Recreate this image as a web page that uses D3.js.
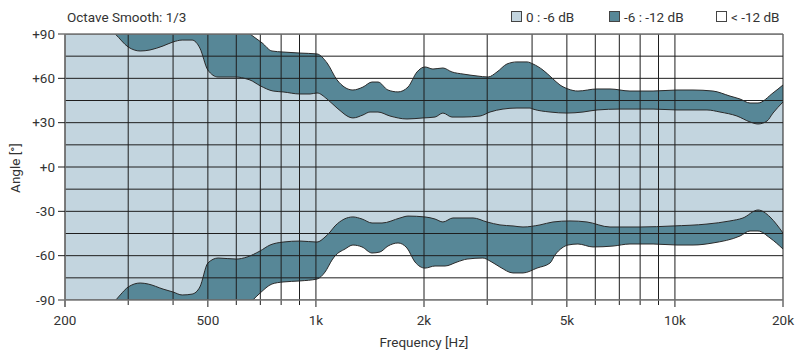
<!DOCTYPE html>
<html>
<head>
<meta charset="utf-8">
<script src="https://cdn.jsdelivr.net/npm/d3@7"></script>
<style>
    body { margin: 0; background: #fff; }
    text { font-family: Roboto, sans-serif; fill: #333; font-size: 13.5px; }
</style>
</head>
<body>
<svg class="chart"></svg>
<script>
// -6 dB boundary, upper side
const upper6Freq = [200, 276, 300, 324, 345, 375, 400, 424, 452, 475, 500, 534, 600, 643, 655, 699, 760, 810, 903, 963, 1007, 1074, 1145, 1268, 1352, 1414, 1489, 1608, 1793, 1987, 2146, 2258, 2393, 2569, 2864, 3054, 3319, 3631, 3948, 4024, 4488, 5004, 5545, 6067, 7031, 8690, 10134, 12282, 13350, 14888, 16184, 17038, 18050, 18756, 20000];
const upper6Deg = [110, 90, 81.2, 78.5, 79.2, 81.9, 84.6, 85.9, 85.9, 80.5, 65.6, 60.9, 60.9, 59.5, 58.9, 55.0, 51.4, 50.8, 49.4, 49.4, 50.1, 46.0, 39.9, 33.2, 35.2, 37.2, 37.2, 34.5, 32.5, 33.2, 33.8, 36.5, 33.8, 33.8, 34.5, 37.2, 39.2, 39.9, 39.9, 39.2, 37.2, 36.5, 37.2, 38.6, 39.2, 39.2, 38.6, 38.6, 37.2, 34.5, 30.5, 29.1, 31.1, 36.5, 44.0];

// -12 dB boundary, upper side
const upper12Freq = [200, 600, 655, 708, 754, 810, 903, 1007, 1074, 1145, 1268, 1352, 1433, 1489, 1587, 1693, 1805, 1912, 2013, 2118, 2258, 2393, 2569, 2810, 3017, 3194, 3405, 3631, 3873, 4024, 4290, 4546, 4784, 5036, 5370, 6067, 6594, 7497, 8690, 10134, 11230, 12765, 14235, 15178, 16184, 17038, 18756, 20000];
const upper12Deg = [115, 98, 90, 84.0, 78.5, 77.8, 77.1, 76.5, 70.4, 58.9, 52.1, 54.1, 57.5, 57.5, 52.1, 50.8, 54.1, 64.3, 67.7, 66.3, 67.0, 64.3, 62.9, 61.6, 60.9, 64.3, 69.7, 71.1, 71.1, 69.7, 65.6, 60.2, 55.5, 52.8, 51.4, 52.8, 52.8, 51.4, 51.4, 52.1, 52.1, 51.4, 48.0, 46.0, 43.3, 43.3, 50.1, 55.5];

// -6 dB boundary, lower side
const lower6Freq = [200, 276, 285, 300, 324, 341, 375, 400, 424, 452, 475, 500, 534, 600, 643, 699, 745, 810, 903, 1007, 1060, 1095, 1130, 1268, 1344, 1433, 1528, 1715, 1805, 2013, 2146, 2258, 2409, 2739, 2996, 3256, 3540, 3774, 4208, 4575, 5102, 5689, 6594, 7995, 9878, 12282, 14235, 15474, 17038, 18400, 19246, 20000];
const lower6Deg = [-110, -90.5, -86.6, -81.2, -78.5, -79.2, -82.6, -84.6, -86.6, -86.0, -81.2, -65.0, -61.6, -62.3, -60.9, -56.8, -52.8, -50.8, -50.1, -50.8, -47.4, -44.0, -39.9, -33.8, -35.2, -37.9, -37.9, -34.5, -33.2, -33.8, -35.2, -37.2, -34.5, -34.5, -37.2, -39.2, -39.9, -40.6, -39.2, -37.2, -36.5, -37.2, -40.6, -40.6, -39.9, -38.6, -36.5, -34.5, -29.1, -33.8, -39.2, -44.7];

// -12 dB boundary, lower side
const lower12Freq = [200, 600, 664, 699, 754, 810, 903, 1007, 1060, 1109, 1130, 1205, 1268, 1344, 1433, 1508, 1587, 1693, 1793, 1888, 2013, 2146, 2288, 2472, 2636, 2919, 3054, 3256, 3540, 3774, 4128, 4488, 4634, 4846, 5036, 5370, 5912, 6722, 7497, 8690, 10134, 11230, 12765, 15178, 16184, 17038, 18400, 20000];
const lower12Deg = [-115, -100, -90.5, -85.3, -79.2, -77.8, -77.1, -75.8, -71.1, -62.9, -60.2, -55.5, -52.8, -54.1, -58.2, -57.5, -53.5, -51.4, -54.8, -64.3, -68.4, -67.0, -67.0, -64.3, -62.3, -61.6, -63.6, -67.7, -71.7, -71.7, -68.4, -65.0, -59.5, -54.8, -52.8, -52.1, -54.1, -53.5, -52.1, -52.1, -52.8, -52.8, -51.4, -46.7, -43.3, -43.3, -48.0, -55.5];

// grid and ticks
const gridFreqs = [200, 300, 400, 500, 600, 700, 800, 900, 1000, 2000, 3000, 4000, 5000, 6000, 7000, 8000, 9000, 10000, 20000];
const xTickFreqs = [200, 500, 1000, 2000, 5000, 10000, 20000];
const xTickLabels = [`200`, `500`, `1k`, `2k`, `5k`, `10k`, `20k`];
const gridAngles = [-90, -75, -60, -45, -30, -15, 0, 15, 30, 45, 60, 75, 90];
const yTickAngles = [90, 60, 30, 0, -30, -60, -90];
const yTickLabels = [`+90`, `+60`, `+30`, `+0`, `-30`, `-60`, `-90`];

const legendLabels = [`0 : -6 dB`, `-6 : -12 dB`, `< -12 dB`];

const width = 795;
const height = 355;
const plotLeft = 65;
const plotRight = 783;
const plotTop = 34;
const plotBottom = 300;

const lightColor = `#c3d5df`;
const darkColor = `#578797`;
const lineColor = `#1e1e1e`;

const zip = (fs, ds) => fs.map((f, i) => [f, ds[i]]);

const xScale = d3.scaleLog().domain([200, 20000]).range([plotLeft, plotRight]);
const yScale = d3.scaleLinear().domain([-90, 90]).range([plotBottom, plotTop]);

const chart = d3.select(`.chart`)
    .attr(`width`, width)
    .attr(`height`, height);

chart.append(`clipPath`)
    .attr(`id`, `plot`)
    .append(`rect`)
    .attr(`x`, plotLeft)
    .attr(`y`, plotTop)
    .attr(`width`, plotRight - plotLeft)
    .attr(`height`, plotBottom - plotTop);

const area = d3.area()
    .curve(d3.curveMonotoneX)
    .x(d => xScale(d[0]))
    .y0(yScale(-130))
    .y1(d => yScale(d[1]));

const line = d3.line()
    .curve(d3.curveMonotoneX)
    .x(d => xScale(d[0]))
    .y(d => yScale(d[1]));

const plot = chart.append(`g`).attr(`clip-path`, `url(#plot)`);

plot.append(`rect`)
    .attr(`x`, plotLeft)
    .attr(`y`, plotTop)
    .attr(`width`, plotRight - plotLeft)
    .attr(`height`, plotBottom - plotTop)
    .attr(`fill`, `#fff`);

// layered fills: each area runs from its boundary down
const layers = [
    [zip(upper12Freq, upper12Deg), darkColor],
    [zip(upper6Freq, upper6Deg), lightColor],
    [zip(lower6Freq, lower6Deg), darkColor],
    [zip(lower12Freq, lower12Deg), `#fff`],
];
layers.forEach(([pts, color]) => {
    plot.append(`path`)
        .attr(`d`, area(pts))
        .attr(`fill`, color);
});

// grid
plot.selectAll(`.hgrid`)
    .data(gridAngles)
    .enter()
    .append(`line`)
    .attr(`x1`, plotLeft)
    .attr(`x2`, plotRight)
    .attr(`y1`, d => yScale(d))
    .attr(`y2`, d => yScale(d))
    .attr(`stroke`, lineColor)
    .attr(`stroke-width`, 1);

// boundary outlines
layers.forEach(([pts]) => {
    plot.append(`path`)
        .attr(`d`, line(pts))
        .attr(`fill`, `none`)
        .attr(`stroke`, `#2a2a2a`)
        .attr(`stroke-width`, 1);
});

// vertical grid lines, running down into tick marks
chart.selectAll(`.vgrid`)
    .data(gridFreqs)
    .enter()
    .append(`line`)
    .attr(`x1`, d => xScale(d))
    .attr(`x2`, d => xScale(d))
    .attr(`y1`, plotTop)
    .attr(`y2`, d => xTickFreqs.includes(d) ? plotBottom + 7 : plotBottom + 5)
    .attr(`stroke`, lineColor)
    .attr(`stroke-width`, 1);

// frame edges
chart.append(`line`)
    .attr(`x1`, plotLeft - 7).attr(`x2`, plotRight)
    .attr(`y1`, plotTop).attr(`y2`, plotTop)
    .attr(`stroke`, `#777`).attr(`stroke-width`, 1.5);
chart.append(`line`)
    .attr(`x1`, plotLeft - 7).attr(`x2`, plotRight)
    .attr(`y1`, plotBottom).attr(`y2`, plotBottom)
    .attr(`stroke`, `#777`).attr(`stroke-width`, 1.5);
chart.append(`line`)
    .attr(`x1`, plotLeft).attr(`x2`, plotLeft)
    .attr(`y1`, plotTop).attr(`y2`, plotBottom + 7)
    .attr(`stroke`, `#777`).attr(`stroke-width`, 1.5);

// y ticks
chart.selectAll(`.ytick`)
    .data(yTickAngles.filter(d => Math.abs(d) !== 90))
    .enter()
    .append(`line`)
    .attr(`x1`, plotLeft - 7)
    .attr(`x2`, plotLeft)
    .attr(`y1`, d => yScale(d))
    .attr(`y2`, d => yScale(d))
    .attr(`stroke`, lineColor);

chart.selectAll(`.ylabel`)
    .data(yTickAngles)
    .enter()
    .append(`text`)
    .attr(`x`, plotLeft - 10)
    .attr(`y`, d => yScale(d))
    .attr(`dy`, `.35em`)
    .attr(`text-anchor`, `end`)
    .text((d, i) => yTickLabels[i]);

chart.selectAll(`.xlabel`)
    .data(xTickFreqs)
    .enter()
    .append(`text`)
    .attr(`x`, d => xScale(d))
    .attr(`y`, 325)
    .attr(`text-anchor`, `middle`)
    .text((d, i) => xTickLabels[i]);

// axis titles
chart.append(`text`)
    .attr(`x`, (plotLeft + plotRight) / 2)
    .attr(`y`, 347)
    .attr(`text-anchor`, `middle`)
    .text(`Frequency [Hz]`);

chart.append(`text`)
    .attr(`transform`, `translate(20, 168) rotate(-90)`)
    .attr(`text-anchor`, `middle`)
    .text(`Angle [°]`);

chart.append(`text`)
    .attr(`x`, 67)
    .attr(`y`, 22)
    .text(`Octave Smooth: 1/3`);

// legend
const legendX = [511, 609, 716];
const legendFill = [lightColor, darkColor, `#fff`];
legendLabels.forEach((label, i) => {
    chart.append(`rect`)
        .attr(`x`, legendX[i] + 0.5)
        .attr(`y`, 11.5)
        .attr(`width`, 10)
        .attr(`height`, 10)
        .attr(`fill`, legendFill[i])
        .attr(`stroke`, `#444`);
    chart.append(`text`)
        .attr(`x`, legendX[i] + 15)
        .attr(`y`, 22)
        .text(label);
});
</script>
</body>
</html>
